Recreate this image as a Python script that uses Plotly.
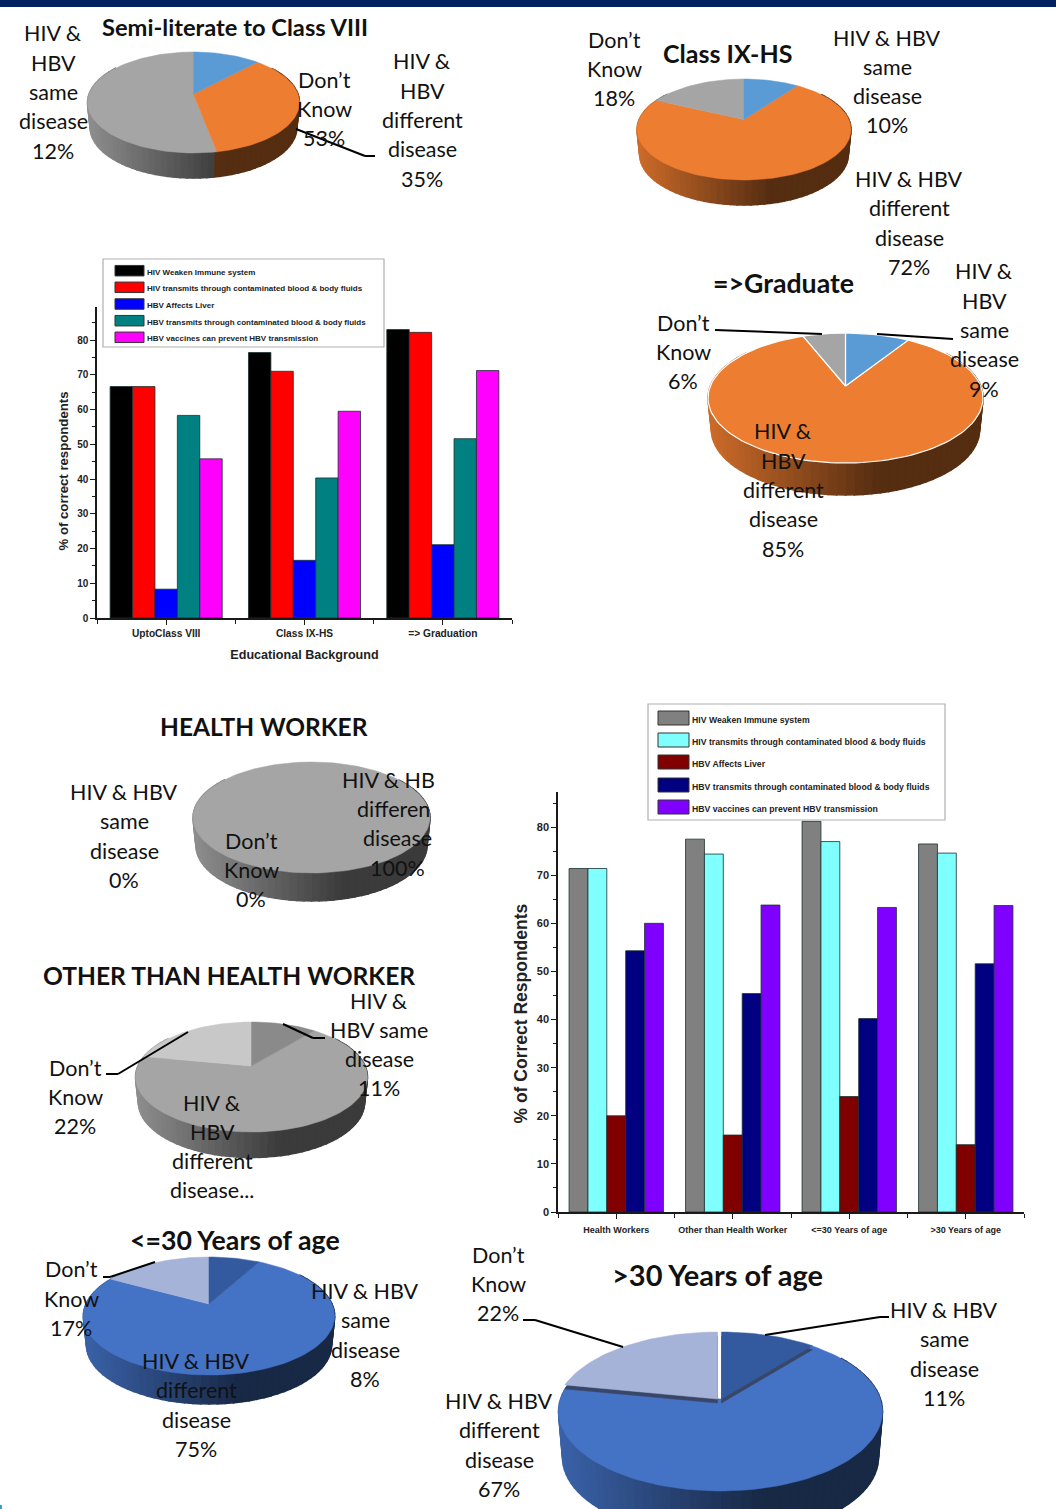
import math
import plotly.graph_objects as go

W, H = 1056, 1509

# ---------- Knowledge bars ----------
edu_groups = ["UptoClass VIII", "Class IX-HS", "=> Graduation"]
series_names = ["HIV Weaken Immune system",
                "HIV transmits through contaminated blood & body fluids",
                "HBV Affects Liver",
                "HBV transmits through contaminated blood & body fluids",
                "HBV vaccines can prevent HBV transmission"]
edu_weaken = [66.6, 76.4, 83.0]
edu_hiv_blood = [66.6, 71.0, 82.2]
edu_liver = [8.3, 16.6, 21.1]
edu_hbv_blood = [58.3, 40.3, 51.6]
edu_vaccine = [45.8, 59.5, 71.2]
edu_colors = ["#000000", "#ff0000", "#0000ff", "#008080", "#ff00ff"]

occ_groups = ["Health Workers", "Other than Health Worker",
              "<=30 Years of age", ">30 Years of age"]
occ_weaken = [71.4, 77.5, 81.2, 76.5]
occ_hiv_blood = [71.4, 74.4, 77.0, 74.6]
occ_liver = [20.0, 16.0, 24.0, 14.0]
occ_hbv_blood = [54.3, 45.4, 40.2, 51.6]
occ_vaccine = [60.0, 63.8, 63.3, 63.7]
occ_colors = ["#808080", "#80ffff", "#800000", "#000080", "#8000ff"]

# ---------- Pie shares: same disease, different disease, don't know ----------
semi_literate = [12, 35, 53]
class_ix_hs = [10, 72, 18]
graduate = [9, 85, 6]
health_worker = [0, 100, 0]
other_worker = [11, 67, 22]
age_under_30 = [8, 75, 17]
age_over_30 = [11, 67, 22]

OFFICE = ["#5b9bd5", "#ed7d31", "#a5a5a5"]
GREYS = ["#8a8a8a", "#a5a5a5", "#c8c8c8"]
BLUES = ["#335a9e", "#4472c4", "#a5b3d9"]

BODY = "Lato"
CHART = "Liberation Sans"

fig = go.Figure()


def shade(color, f):
    r, g, b = (int(color[i:i + 2], 16) for i in (1, 3, 5))
    return f"rgb({int(r * f)},{int(g * f)},{int(b * f)})"


def pie3d(values, colors, cx, ay, a, top, bottom, depth, sep=None, explode=None, wall=0):
    """Tilted pie with a shaded rim; slices run clockwise from twelve o'clock."""
    above, below = ay - top, bottom - ay
    k = (below - above) / (below + above)
    h = above * (1 + k)
    a0 = a * math.sqrt(1 - k * k)

    def pt(theta):
        u, v = math.sin(theta), -math.cos(theta)
        d = 1 - k * v
        return cx + a0 * u / d, ay + h * v / d

    total = sum(values)
    edges = [0.0]
    for v in values:
        edges.append(edges[-1] + v / total * 2 * math.pi)

    def slice_at(theta):
        for i in range(len(values)):
            if edges[i] <= theta <= edges[i + 1] and values[i] > 0:
                return i
        return 1

    # rim, built from narrow strips so the shading runs left to right;
    # the lower edge pulls in slightly as it recedes from the viewer
    n = 80
    t0, t1 = math.radians(55), math.radians(305)
    for i in range(n):
        p, q = t0 + (t1 - t0) * i / n, t0 + (t1 - t0) * (i + 1) / n
        x1, y1 = pt(p)
        x2, y2 = pt(q)
        b1, b2 = cx + (x1 - cx) * 0.975, cx + (x2 - cx) * 0.975
        t = ((x1 + x2) / 2 - (cx - a)) / (2 * a)
        f = max(0.36, 0.86 - 0.8 * t)
        col = shade(colors[slice_at((p + q) / 2)], f)
        fig.add_trace(go.Scatter(x=[x1, x2, b2, b1, x1], y=[y1, y2, y2 + depth, y1 + depth, y1],
                                 mode="lines", fill="toself", fillcolor=col,
                                 line=dict(color=col, width=1.5), hoverinfo="skip", showlegend=False))

    def wedge(i, dx=0, dy=0, color=None, line=None):
        m = max(2, int((edges[i + 1] - edges[i]) / (2 * math.pi) * 160))
        xs, ys = [], []
        for j in range(m + 1):
            x, y = pt(edges[i] + (edges[i + 1] - edges[i]) * j / m)
            xs.append(x + dx)
            ys.append(y + dy)
        if (edges[i + 1] - edges[i]) < 2 * math.pi - 1e-6:
            xs = [cx + dx] + xs + [cx + dx]
            ys = [ay + dy] + ys + [ay + dy]
        col = color or colors[i]
        fig.add_trace(go.Scatter(x=xs, y=ys, mode="lines", fill="toself", fillcolor=col,
                                 line=dict(color=line or col, width=1.2 if line else 0.5),
                                 hoverinfo="skip", showlegend=False))

    order = sorted(range(len(values)), key=lambda i: -values[i])
    for i in order:
        if values[i] <= 0:
            continue
        dx = explode[i] if explode else 0
        if wall and explode and explode[i]:
            wedge(i, dx, wall, "#3a4668")
        wedge(i, dx, 0, None, sep)


pie3d(semi_literate, OFFICE, 193.5, 94, 106, 52, 153, 25)
pie3d(class_ix_hs, OFFICE, 744, 119.5, 107, 79, 180, 25)
pie3d(graduate, OFFICE, 845.5, 386, 137.5, 333, 463, 32, sep="#ffffff")
pie3d(health_worker, GREYS, 311.5, 808, 118.5, 762, 873, 28)
pie3d(other_worker, GREYS, 251.5, 1066, 116, 1022, 1132, 25.5)
pie3d(age_under_30, BLUES, 209, 1304, 125.7, 1257, 1375, 29)
pie3d(age_over_30, BLUES, 720.5, 1399, 162, 1332, 1491, 46, explode=[1, 0, -3], wall=4)

# full-page coordinate frame used by the pies, captions and leader lines
page_axis = dict(visible=False, fixedrange=True, automargin=False)
layout = dict(
    width=W, height=H, margin=dict(l=0, r=0, t=0, b=0), autosize=False,
    paper_bgcolor="#ffffff", plot_bgcolor="rgba(0,0,0,0)", showlegend=False, bargap=0.19, bargroupgap=0,
    xaxis=dict(range=[0, W], domain=[0, 1], **page_axis),
    yaxis=dict(range=[H, 0], domain=[0, 1], **page_axis),
)


def bar_panel(n, groups, series_values, colors, left, right, y0_px, top_px, y_max,
              tick_size, label_size, label_standoff, xtitle):
    """Grouped bars on their own axes, placed by pixel extents on the page."""
    xname, yname = f"xaxis{n}", f"yaxis{n}"
    positions = list(range(1, len(groups) + 1))
    for name, vals, col in zip(series_names, series_values, colors):
        fig.add_trace(go.Bar(x=positions, y=vals, name=name,
                             marker=dict(color=col, line=dict(color="#1a3030", width=0.8)),
                             xaxis=f"x{n}", yaxis=f"y{n}", offsetgroup=name, hoverinfo="skip"))
    line = dict(showline=True, linecolor="#1a1a1a", linewidth=1.5, ticks="outside", tickcolor="#1a1a1a",
                tickwidth=1.3, ticklen=5, showgrid=False, zeroline=False, fixedrange=True, automargin=False)
    layout[xname] = dict(domain=[left / W, right / W], range=[0.5, len(groups) + 0.5], anchor=f"y{n}",
                         tickvals=positions, ticktext=groups, ticklabelstandoff=label_standoff,
                         tickfont=dict(family=CHART, size=label_size, color="#222222", weight="bold"),
                         minor=dict(tickvals=[p + 0.5 for p in [0] + positions], ticks="outside", ticklen=4,
                                    tickcolor="#1a1a1a", tickwidth=1.3, showgrid=False),
                         title=xtitle, **line)
    layout[yname] = dict(domain=[1 - y0_px / H, 1 - top_px / H], range=[0, y_max], anchor=f"x{n}",
                         tickvals=list(range(0, 90, 10)),
                         tickfont=dict(family=CHART, size=tick_size, color="#222222", weight="bold"),
                         minor=dict(tickvals=list(range(5, 90, 10)), ticks="outside", ticklen=3,
                                    tickcolor="#1a1a1a", tickwidth=1.2, showgrid=False),
                         **line)


bar_panel(2, edu_groups, [edu_weaken, edu_hiv_blood, edu_liver, edu_hbv_blood, edu_vaccine], edu_colors,
          97, 512, 618, 307, 89.5, 10, 10.2, 0,
          dict(text="Educational Background", standoff=12,
               font=dict(family=CHART, size=12.6, color="#222222", weight="bold")))
bar_panel(3, occ_groups, [occ_weaken, occ_hiv_blood, occ_liver, occ_hbv_blood, occ_vaccine], occ_colors,
          558, 1024, 1212, 792, 87.3, 11, 9, 3, None)

shapes = [dict(type="rect", xref="x", yref="y", x0=0, x1=W, y0=0, y1=7,
               fillcolor="#002060", line=dict(width=0), layer="above"),
          dict(type="rect", xref="x", yref="y", x0=0, x1=2, y0=1505, y1=H,
               fillcolor="#1fa8e0", line=dict(width=0), layer="above")]
annotations = []
LINE_GAP = 29.3


def text(x, y, s, size=21.5, bold=False, family=BODY, anchor="center", color="#111111", angle=0):
    """Place a caption centred on (x, y); each line gets its own fixed-pitch row."""
    lines = s.split("<br>")
    y0 = y - LINE_GAP * (len(lines) - 1) / 2
    for i, part in enumerate(lines):
        annotations.append(dict(x=x, y=y0 + i * LINE_GAP, xref="x", yref="y", text=part, showarrow=False,
                                xanchor=anchor, yanchor="middle", borderpad=0, textangle=angle,
                                font=dict(family=family, size=size, color=color,
                                          weight="bold" if bold else "normal")))


def leader(*pts):
    for (x0, y0), (x1, y1) in zip(pts, pts[1:]):
        shapes.append(dict(type="line", xref="x", yref="y", x0=x0, y0=y0, x1=x1, y1=y1,
                           line=dict(color="#000000", width=2), layer="above"))


def legend_box(x0, x1, y0, y1, sx0, sx1, rows, swatch_h, tx, size, colors, nudge):
    shapes.append(dict(type="rect", xref="x", yref="y", x0=x0, x1=x1, y0=y0, y1=y1, fillcolor="#ffffff",
                       line=dict(color="#b0b0b0", width=1.2), layer="above"))
    for y, col, name in zip(rows, colors, series_names):
        shapes.append(dict(type="rect", xref="x", yref="y", x0=sx0, x1=sx1, y0=y - swatch_h / 2, y1=y + swatch_h / 2,
                           fillcolor=col, line=dict(color="#333333", width=1), layer="above"))
        text(tx, y + nudge, name, size=size, bold=True, family=CHART, anchor="left", color="#222222")


legend_box(103, 384, 259, 347, 115, 144, [270.7, 287.3, 304, 320.7, 337.3], 10.5, 146, 8, edu_colors, 1.5)
legend_box(648, 945, 704, 820, 658, 689, [718, 740, 762, 785, 807], 14, 691, 8.7, occ_colors, 2)

text(63, 471.5, "% of correct respondents", 13.2, True, CHART, color="#222222", angle=-90)
text(520, 1013.5, "% of Correct Respondents", 17.5, True, CHART, color="#222222", angle=-90)

DK = "Don’t<br>Know<br>"
SAME5 = "HIV &<br>HBV<br>same<br>disease<br>"
SAME4 = "HIV & HBV<br>same<br>disease<br>"
DIFF5 = "HIV &<br>HBV<br>different<br>disease<br>"
DIFF4 = "HIV & HBV<br>different<br>disease<br>"

# Semi-literate to Class VIII
text(235, 27, "Semi-literate to Class VIII", 23.7, True)
text(53, 92, SAME5 + f"{semi_literate[0]}%")
text(324, 109, DK + f"{semi_literate[2]}%")
text(422, 120, DIFF5 + f"{semi_literate[1]}%")
leader((296, 129), (365, 156), (375, 156))

# Class IX-HS
text(727, 53, "Class IX-HS", 25, True)
text(614, 69, DK + f"{class_ix_hs[2]}%")
text(887, 81.5, SAME4 + f"{class_ix_hs[0]}%")
text(909, 223, DIFF4 + f"{class_ix_hs[1]}%")

# Graduate and above
text(783, 283, "=>Graduate", 26.7, True)
text(683, 352, DK + f"{graduate[2]}%")
text(984, 330, SAME5 + f"{graduate[0]}%")
text(783, 490, DIFF5 + f"{graduate[1]}%")
leader((715, 330), (822, 334))
leader((877, 334), (953, 339))

# Health workers
text(264, 726, "HEALTH WORKER", 24.5, True)
text(124, 836, SAME4 + f"{health_worker[0]}%")
text(251, 870, DK + f"{health_worker[2]}%")
text(388.5, 780, "HIV & HB")
text(393, 809, "differen")
text(397, 838, "disease")
text(397, 868, f"{health_worker[1]}%")

# Other than health workers
text(229, 975, "OTHER THAN HEALTH WORKER", 24.6, True)
text(379, 1044.5, "HIV &<br>HBV same<br>disease<br>" + f"{other_worker[0]}%")
text(75, 1097, DK + f"{other_worker[2]}%")
text(212, 1146.5, "HIV &<br>HBV<br>different<br>disease...")
leader((283, 1024), (313, 1038), (325, 1038))
leader((188, 1032), (118, 1074), (106, 1074))

# 30 years of age and under
text(235, 1240, "<=30 Years of age", 26.7, True)
text(71, 1298.5, DK + f"{age_under_30[2]}%")
text(365, 1335, SAME4 + f"{age_under_30[0]}%")
text(196, 1405, DIFF4 + f"{age_under_30[1]}%")
leader((155, 1262), (110, 1277), (103, 1277))

# Over 30 years of age
text(717, 1274, ">30 Years of age", 29, True)
text(498, 1284, DK + f"{age_over_30[2]}%")
text(944, 1354, SAME4 + f"{age_over_30[0]}%")
text(499, 1445, DIFF4 + f"{age_over_30[1]}%")
leader((623, 1347), (535, 1320), (523, 1320))
leader((765, 1335), (880, 1317), (889, 1317))

fig.update_layout(shapes=shapes, annotations=annotations, **layout)
fig.write_html("out.html", config=dict(displayModeBar=False))
